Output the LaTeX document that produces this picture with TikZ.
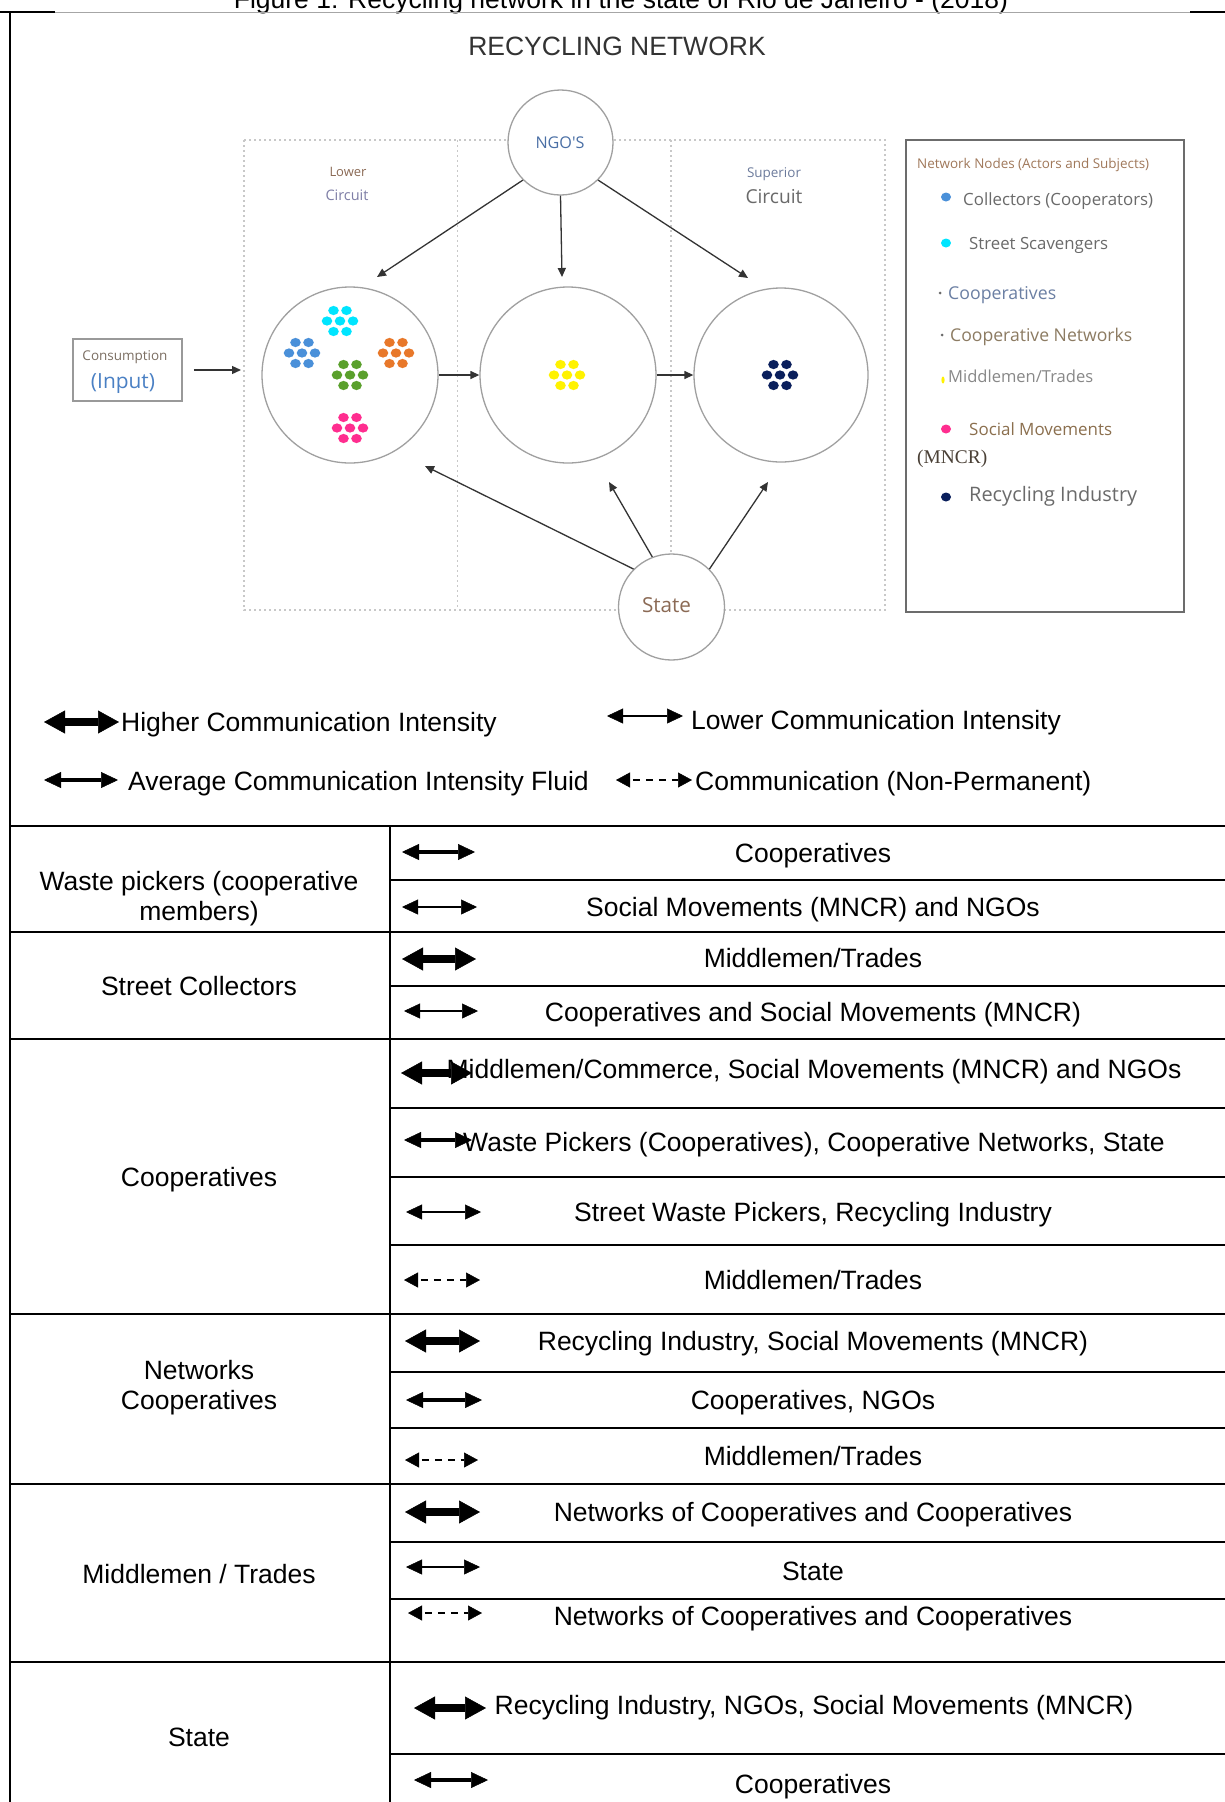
\documentclass[tikz,border=0pt]{standalone}
\usepackage{fontspec}
\setmainfont{Liberation Sans}
\newfontfamily\dfont{Open Sans}
\newfontfamily\serfont{Liberation Serif}
\usetikzlibrary{arrows.meta}
\definecolor{cgray}{HTML}{A0A0A0}
\definecolor{dotg}{HTML}{C8C8C8}
\definecolor{darkline}{HTML}{333333}
\definecolor{ngoblue}{HTML}{4A6FA5}
\definecolor{brownt}{HTML}{8B6A55}
\definecolor{purpt}{HTML}{7E7EA6}
\definecolor{supblue}{HTML}{6C7B9C}
\definecolor{gtext}{HTML}{6A6A6A}
\definecolor{inblue}{HTML}{4A80C4}
\definecolor{legbrown}{HTML}{A0785A}
\definecolor{coopblue}{HTML}{6B7FA3}
\definecolor{netbrown}{HTML}{8C7B62}
\definecolor{socbrown}{HTML}{8B6F4E}
\definecolor{mncr}{HTML}{4A4036}
\definecolor{dblue}{HTML}{4A90D9}
\definecolor{dcyan}{HTML}{00E5FF}
\definecolor{dorange}{HTML}{E8782A}
\definecolor{dgreen}{HTML}{5AA02C}
\definecolor{dpink}{HTML}{FF2D8F}
\definecolor{dyellow}{HTML}{FFF200}
\definecolor{dnavy}{HTML}{0A1F5C}
\newcommand\fitw[2]{\resizebox{#1pt}{!}{#2}}
\tikzset{
  mtxt/.style={inner sep=0pt, font=\fontsize{26.5}{31}\selectfont, text height=19pt, text depth=0pt},
  dlab/.style={inner sep=0pt, text depth=0pt},
  tline/.style={line width=2.5pt, black},
  dotbox/.style={draw=dotg, line width=1.5pt, dash pattern=on 2pt off 3pt},
  circ/.style={circle, draw=cgray, line width=1.3pt, fill=white, inner sep=0pt},
  darr/.style={draw=darkline, line width=1.3pt, -{Triangle[length=9pt,width=8pt]}},
  hiA/.style={line width=8pt, {Triangle[length=21pt,width=23pt,line width=0.5pt]}-{Triangle[length=21pt,width=23pt,line width=0.5pt]}},
  avA/.style={line width=4pt, {Triangle[length=17pt,width=16pt,line width=0.5pt]}-{Triangle[length=17pt,width=16pt,line width=0.5pt]}},
  loA/.style={line width=1.1pt, {Triangle[length=16pt,width=15pt,line width=0.5pt]}-{Triangle[length=16pt,width=15pt,line width=0.5pt]}},
  npA/.style={line width=1.8pt, dash pattern=on 7pt off 6pt, dash phase=-3pt, {Triangle[length=14pt,width=15pt,line width=0.5pt]}-{Triangle[length=14pt,width=15pt,line width=0.5pt]}},
  cluster/.pic={
    \foreach \dx/\dy in {-6.5/-10.5,6.5/-10.5,-13/0,0/0,13/0,-6.5/10.5,6.5/10.5}
      \fill (\dx,\dy) ellipse [x radius=5.3, y radius=4.6];
  },
}
\begin{document}
\begin{tikzpicture}[x=1pt,y=-1pt]
\useasboundingbox (0,0) rectangle (1225,1802);
\fill[white] (0,0) rectangle (1225,1802);

% caption (cut off at top) and frame
\node[anchor=base, inner sep=0pt, font=\fontsize{26.5}{31}\selectfont] (caption) at (621,8) {Figure 1: Recycling network in the state of Rio de Janeiro - (2018)};
\draw[black, line width=2pt] (0,12) -- (55,12);
\draw[black, line width=2pt] (1190,12) -- (1225,12);
\draw[gray!70, line width=0.8pt] (55,12) -- (1190,12);
\draw[black, line width=2pt] (9.5,11) -- (9.5,1802);

% title
\node[mtxt, text=darkline] (title) at (617,46) {RECYCLING NETWORK};

% dotted circuits
\draw[dotbox] (244,140) rectangle (885,610);
\draw[dotbox] (457.5,140) -- (457.5,610);
\draw[dotbox] (671,140) -- (671,610);

% circuit labels
\node[dlab, text=brownt] (lowA) at (348,172) {\fitw{37}{\dfont Lower}};
\node[dlab, text=purpt] (lowB) at (347,195) {\fitw{43}{\dfont Circuit}};
\node[dlab, text=supblue] (supA) at (774,173) {\fitw{54}{\dfont Superior}};
\node[dlab, text=gtext] (supB) at (774,196) {\fitw{57}{\dfont Circuit}};

% main circles
\node[circ, minimum size=176pt] (lc) at (350,375) {};
\node[circ, minimum size=176pt] (mc) at (568,375) {};
\node[circ, minimum size=174pt] (rc) at (781,375) {};

% NGO and State circles
\node[circ, minimum size=105pt] (ngo) at (560.5,142.5) {};
\node[dlab, text=ngoblue] (ngot) at (560,143) {\fitw{49}{\dfont NGO'S}};
\node[circ, minimum size=106pt] (st) at (671.5,607) {};
\node[dlab, text=brownt] (stt) at (666.5,605) {\fitw{49}{\dfont State}};

% consumption box
\node[draw=gray!80, line width=1.5pt, minimum width=109pt, minimum height=62pt, inner sep=0pt] (cons) at (127.5,370) {};
\node[dlab, text=gtext!80!brown] (const) at (125,356) {\fitw{85}{\dfont Consumption}};
\node[dlab, text=inblue] (inp) at (123,381) {\fitw{64}{\dfont (Input)}};

% dot clusters
\pic[color=dcyan] at (340,321) {cluster};
\pic[color=dblue] at (302,353) {cluster};
\pic[color=dorange] at (396,353) {cluster};
\pic[color=dgreen] at (350,375) {cluster};
\pic[color=dpink] at (350,428) {cluster};
\pic[color=dyellow] at (567,375) {cluster};
\pic[color=dnavy] at (780,375) {cluster};

% connectors
\coordinate (tL) at (377,277);
\coordinate (tM) at (562,277);
\coordinate (tR) at (748,278);
\coordinate (sL) at (425,466);
\coordinate (sM) at (609,482);
\coordinate (sR) at (768,482);
\coordinate (cin) at (241,370);
\draw[darr] (ngo.225) -- (tL);
\draw[darr] (ngo.270) -- (tM);
\draw[darr] (ngo.315) -- (tR);
\draw[darr] (st.135) -- (sL);
\draw[darr] (st.111) -- (sM);
\draw[darr] (st.45) -- (sR);
\draw[darr] (lc) -- (mc);
\draw[darr] (mc) -- (rc);
\draw[darr, shorten <=11pt] (cons.east) -- (cin);

% legend box
\node[draw=gray!85!black, line width=2.2pt, minimum width=278pt, minimum height=472pt, inner sep=0pt] (leg) at (1045,376) {};
\node[dlab, text=legbrown, anchor=west] (lg0) at (917,163) {\fitw{232}{\dfont Network Nodes (Actors and Subjects)}};
\fill[dblue] (946,197) ellipse [x radius=5, y radius=4.5];
\node[dlab, text=gtext, anchor=west] (lg1) at (963,199) {\fitw{190}{\dfont Collectors (Cooperators)}};
\fill[dcyan] (946,243) ellipse [x radius=5, y radius=4.5];
\node[dlab, text=gtext, anchor=west] (lg2) at (969,243) {\fitw{139}{\dfont Street Scavengers}};
\fill[gtext] (940,293) circle [radius=1.5];
\node[dlab, text=coopblue, anchor=west] (lg3) at (948,293) {\fitw{108}{\dfont Cooperatives}};
\fill[gtext] (942,335) circle [radius=1.5];
\node[dlab, text=netbrown, anchor=west] (lg4) at (950,335) {\fitw{182}{\dfont Cooperative Networks}};
\fill[dyellow] (943,380) ellipse [x radius=1.6, y radius=3.5];
\node[dlab, text=gtext!80, anchor=west] (lg5) at (948,376) {\fitw{145}{\dfont Middlemen/Trades}};
\fill[dpink] (946,429) ellipse [x radius=5, y radius=4.5];
\node[dlab, text=socbrown, anchor=west] (lg6) at (969,429) {\fitw{143}{\dfont Social Movements}};
\node[dlab, text=mncr, anchor=west] (lg7) at (917,457) {\fitw{70}{\serfont (MNCR)}};
\fill[dnavy] (946,497) ellipse [x radius=5, y radius=4.5];
\node[dlab, text=gtext, anchor=west] (lg8) at (969,494) {\fitw{168}{\dfont Recycling Industry}};

% arrow legend
\draw[hiA] (44,722) -- (119,722);
\node[mtxt, anchor=west] (k1) at (121,722) {Higher Communication Intensity};
\draw[loA] (607,716) -- (683,716);
\node[mtxt, anchor=west] (k2) at (691,720) {Lower Communication Intensity};
\draw[avA] (44,780) -- (118,780);
\node[mtxt, anchor=west] (k3) at (128,781) {Average Communication Intensity Fluid};
\draw[npA] (616,780) -- (692,780);
\node[mtxt, anchor=west] (k4) at (695,781) {Communication (Non-Permanent)};

% table lines
\foreach \yy in {826,932,1039,1314,1484,1662}
  \draw[tline] (9,\yy) -- (1225,\yy);
\foreach \yy in {880,986,1108,1177,1245,1372,1428,1542,1599,1754}
  \draw[tline] (390,\yy) -- (1225,\yy);
\draw[tline] (390,826) -- (390,1802);

% left column
\node[mtxt] (a1) at (199,881) {Waste pickers (cooperative};
\node[mtxt] (a1b) at (199,911) {members)};
\node[mtxt] (a2) at (199,986) {Street Collectors};
\node[mtxt] (a3) at (199,1177) {Cooperatives};
\node[mtxt] (a4) at (199,1370) {Networks};
\node[mtxt] (a4b) at (199,1400) {Cooperatives};
\node[mtxt] (a5) at (199,1574) {Middlemen / Trades};
\node[mtxt] (a6) at (199,1737) {State};

% right column arrows
\draw[avA] (402,852) -- (475,852);
\draw[loA] (402,907) -- (477,907);
\draw[hiA] (402,959) -- (476,959);
\draw[loA] (404,1011) -- (478,1011);
\draw[hiA] (401,1073) -- (472,1073);
\draw[avA] (404,1140) -- (472,1140);
\draw[loA] (406,1212) -- (481,1212);
\draw[npA] (404,1280) -- (480,1280);
\draw[hiA] (405,1341) -- (480,1341);
\draw[avA] (406,1400) -- (482,1400);
\draw[npA] (405,1460) -- (478,1460);
\draw[hiA] (405,1512) -- (480,1512);
\draw[loA] (406,1567) -- (480,1567);
\draw[npA] (408,1613) -- (482,1613);
\draw[hiA] (414,1708) -- (486,1708);
\draw[avA] (414,1780) -- (488,1780);

% right column texts
\node[mtxt] (b1) at (813,853) {Cooperatives};
\node[mtxt] (b2) at (813,907) {Social Movements (MNCR) and NGOs};
\node[mtxt] (b3) at (813,958) {Middlemen/Trades};
\node[mtxt] (b4) at (813,1012) {Cooperatives and Social Movements (MNCR)};
\node[mtxt] (b5) at (814,1069) {Middlemen/Commerce, Social Movements (MNCR) and NGOs};
\node[mtxt] (b6) at (814,1142) {Waste Pickers (Cooperatives), Cooperative Networks, State};
\node[mtxt] (b7) at (813,1212) {Street Waste Pickers, Recycling Industry};
\node[mtxt] (b8) at (813,1280) {Middlemen/Trades};
\node[mtxt] (b9) at (813,1341) {Recycling Industry, Social Movements (MNCR)};
\node[mtxt] (b10) at (813,1400) {Cooperatives, NGOs};
\node[mtxt] (b11) at (813,1456) {Middlemen/Trades};
\node[mtxt] (b12) at (813,1512) {Networks of Cooperatives and Cooperatives};
\node[mtxt] (b13) at (813,1571) {State};
\node[mtxt] (b14) at (813,1616) {Networks of Cooperatives and Cooperatives};
\node[mtxt] (b15) at (814,1705) {Recycling Industry, NGOs, Social Movements (MNCR)};
\node[mtxt] (b16) at (813,1784) {Cooperatives};
\end{tikzpicture}
\end{document}
